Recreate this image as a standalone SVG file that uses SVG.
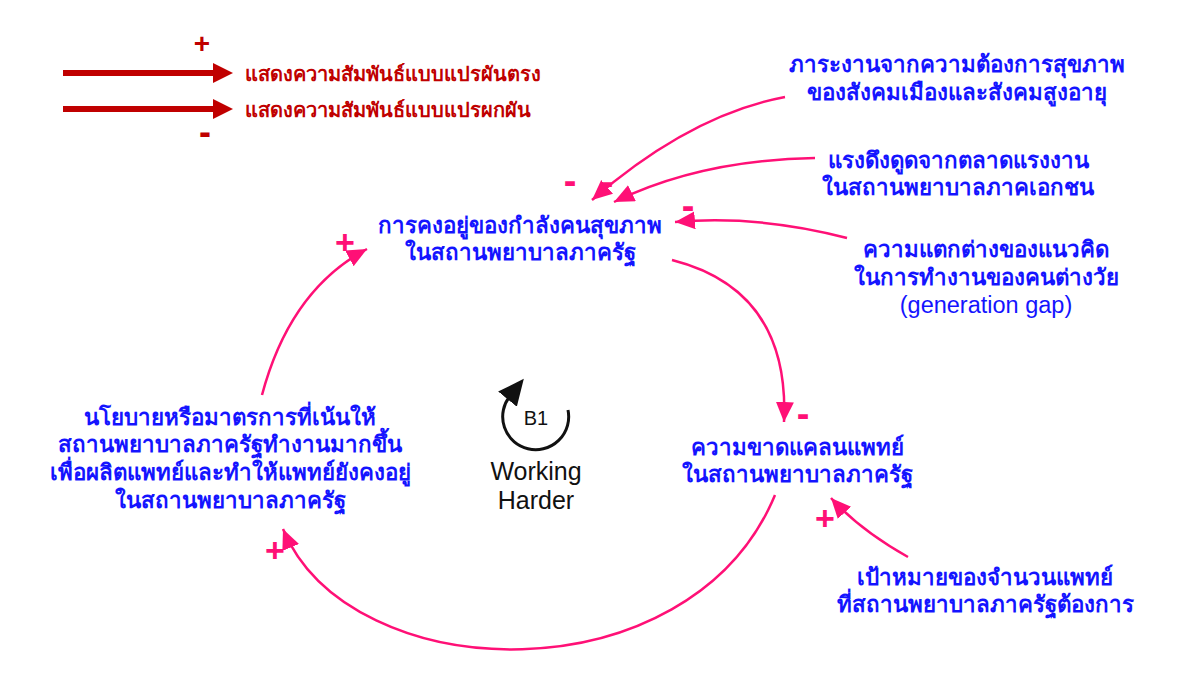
<svg xmlns="http://www.w3.org/2000/svg" width="1200" height="673" viewBox="0 0 1200 673">
<defs>
<marker id="pk" markerUnits="userSpaceOnUse" markerWidth="22" markerHeight="20" refX="20" refY="9" orient="auto">
<path d="M0,0 L20,9 L0,18 z" fill="#ff1076"/>
</marker>
<marker id="bk" markerUnits="userSpaceOnUse" markerWidth="28" markerHeight="26" refX="4" refY="12" orient="auto">
<path d="M0,0 L26,12 L0,24 z" fill="#111"/>
</marker>
</defs>
<style>
.th{font-family:"Liberation Sans","Noto Sans","DejaVu Sans",sans-serif;font-weight:bold;font-size:22.3px;fill:#1414ff;text-anchor:middle}
.lg{font-family:"Liberation Sans","Noto Sans","DejaVu Sans",sans-serif;font-weight:bold;font-size:20px;fill:#c00000}
.pol{font-family:"Liberation Sans",Arial,sans-serif;font-weight:bold;font-size:34px;fill:#ff1076;text-anchor:middle}
.mn{font-size:38px}
.pl{fill:none;stroke:#ff1076;stroke-width:2.5}
.en{font-family:"Liberation Sans",Arial,sans-serif;fill:#111;text-anchor:middle}
</style>
<rect width="1200" height="673" fill="#fff"/>
<g id="legend">
<rect x="63" y="70" width="152" height="6" fill="#c00000"/>
<path d="M213,63 L233,73 L213,83 z" fill="#c00000"/>
<rect x="63" y="106" width="152" height="6" fill="#c00000"/>
<path d="M213,99 L233,109 L213,119 z" fill="#c00000"/>
<text x="202" y="53" class="pol" style="fill:#c00000;font-size:28px">+</text>
<text x="205" y="144" class="pol mn" style="fill:#c00000;font-size:36px">-</text>
<text x="245" y="81" class="lg">แสดงความสัมพันธ์แบบแปรผันตรง</text>
<text x="245" y="117" class="lg">แสดงความสัมพันธ์แบบแปรผกผัน</text>
</g>
<g id="connectors">
<path class="pl" d="M785,97 Q690,115 592,200" marker-end="url(#pk)"/>
<path class="pl" d="M815,158 Q700,160 614,202" marker-end="url(#pk)"/>
<path class="pl" d="M847,238 Q760,215 675,222" marker-end="url(#pk)"/>
<path class="pl" d="M672,260 Q790,290 784,422" marker-end="url(#pk)"/>
<path class="pl" d="M908,557 Q860,530 831,498" marker-end="url(#pk)"/>
<path class="pl" d="M775,495 C690,700 350,690 283,529" marker-end="url(#pk)"/>
<path class="pl" d="M262,395 Q290,290 367,249" marker-end="url(#pk)"/>
<text x="570" y="194" class="pol mn">-</text>
<text x="607" y="195" class="pol mn">-</text>
<text x="688" y="219" class="pol mn">-</text>
<text x="803" y="427" class="pol mn">-</text>
<text x="825" y="530" class="pol">+</text>
<text x="275" y="562" class="pol">+</text>
<text x="345" y="254" class="pol">+</text>
</g>
<g id="node-retention">
<text x="520" y="233" class="th">การคงอยู่ของกำลังคนสุขภาพ</text>
<text x="520" y="260" class="th">ในสถานพยาบาลภาครัฐ</text>
</g>
<g id="node-workload">
<text x="957" y="72" class="th">ภาระงานจากความต้องการสุขภาพ</text>
<text x="957" y="100" class="th">ของสังคมเมืองและสังคมสูงอายุ</text>
</g>
<g id="node-private">
<text x="958" y="168" class="th">แรงดึงดูดจากตลาดแรงงาน</text>
<text x="958" y="195" class="th">ในสถานพยาบาลภาคเอกชน</text>
</g>
<g id="node-generation">
<text x="986" y="257" class="th">ความแตกต่างของแนวคิด</text>
<text x="986" y="285" class="th">ในการทำงานของคนต่างวัย</text>
<text x="986" y="313" class="th" style="font-weight:normal;font-size:23.5px">(generation gap)</text>
</g>
<g id="node-shortage">
<text x="797" y="455" class="th">ความขาดแคลนแพทย์</text>
<text x="797" y="482" class="th">ในสถานพยาบาลภาครัฐ</text>
</g>
<g id="node-target">
<text x="985" y="585" class="th">เป้าหมายของจำนวนแพทย์</text>
<text x="985" y="612" class="th">ที่สถานพยาบาลภาครัฐต้องการ</text>
</g>
<g id="node-policy">
<text x="230" y="425" class="th">นโยบายหรือมาตรการที่เน้นให้</text>
<text x="230" y="452" class="th">สถานพยาบาลภาครัฐทำงานมากขึ้น</text>
<text x="230" y="480" class="th">เพื่อผลิตแพทย์และทำให้แพทย์ยังคงอยู่</text>
<text x="230" y="508" class="th">ในสถานพยาบาลภาครัฐ</text>
</g>
<g id="loop-b1">
<path d="M568,410 A33,33 0 1 1 510,396" fill="none" stroke="#111" stroke-width="3" marker-end="url(#bk)"/>
<text x="536" y="425" class="en" font-size="20">B1</text>
<text x="536" y="480" class="en" font-size="25">Working</text>
<text x="536" y="509" class="en" font-size="25">Harder</text>
</g>
</svg>
